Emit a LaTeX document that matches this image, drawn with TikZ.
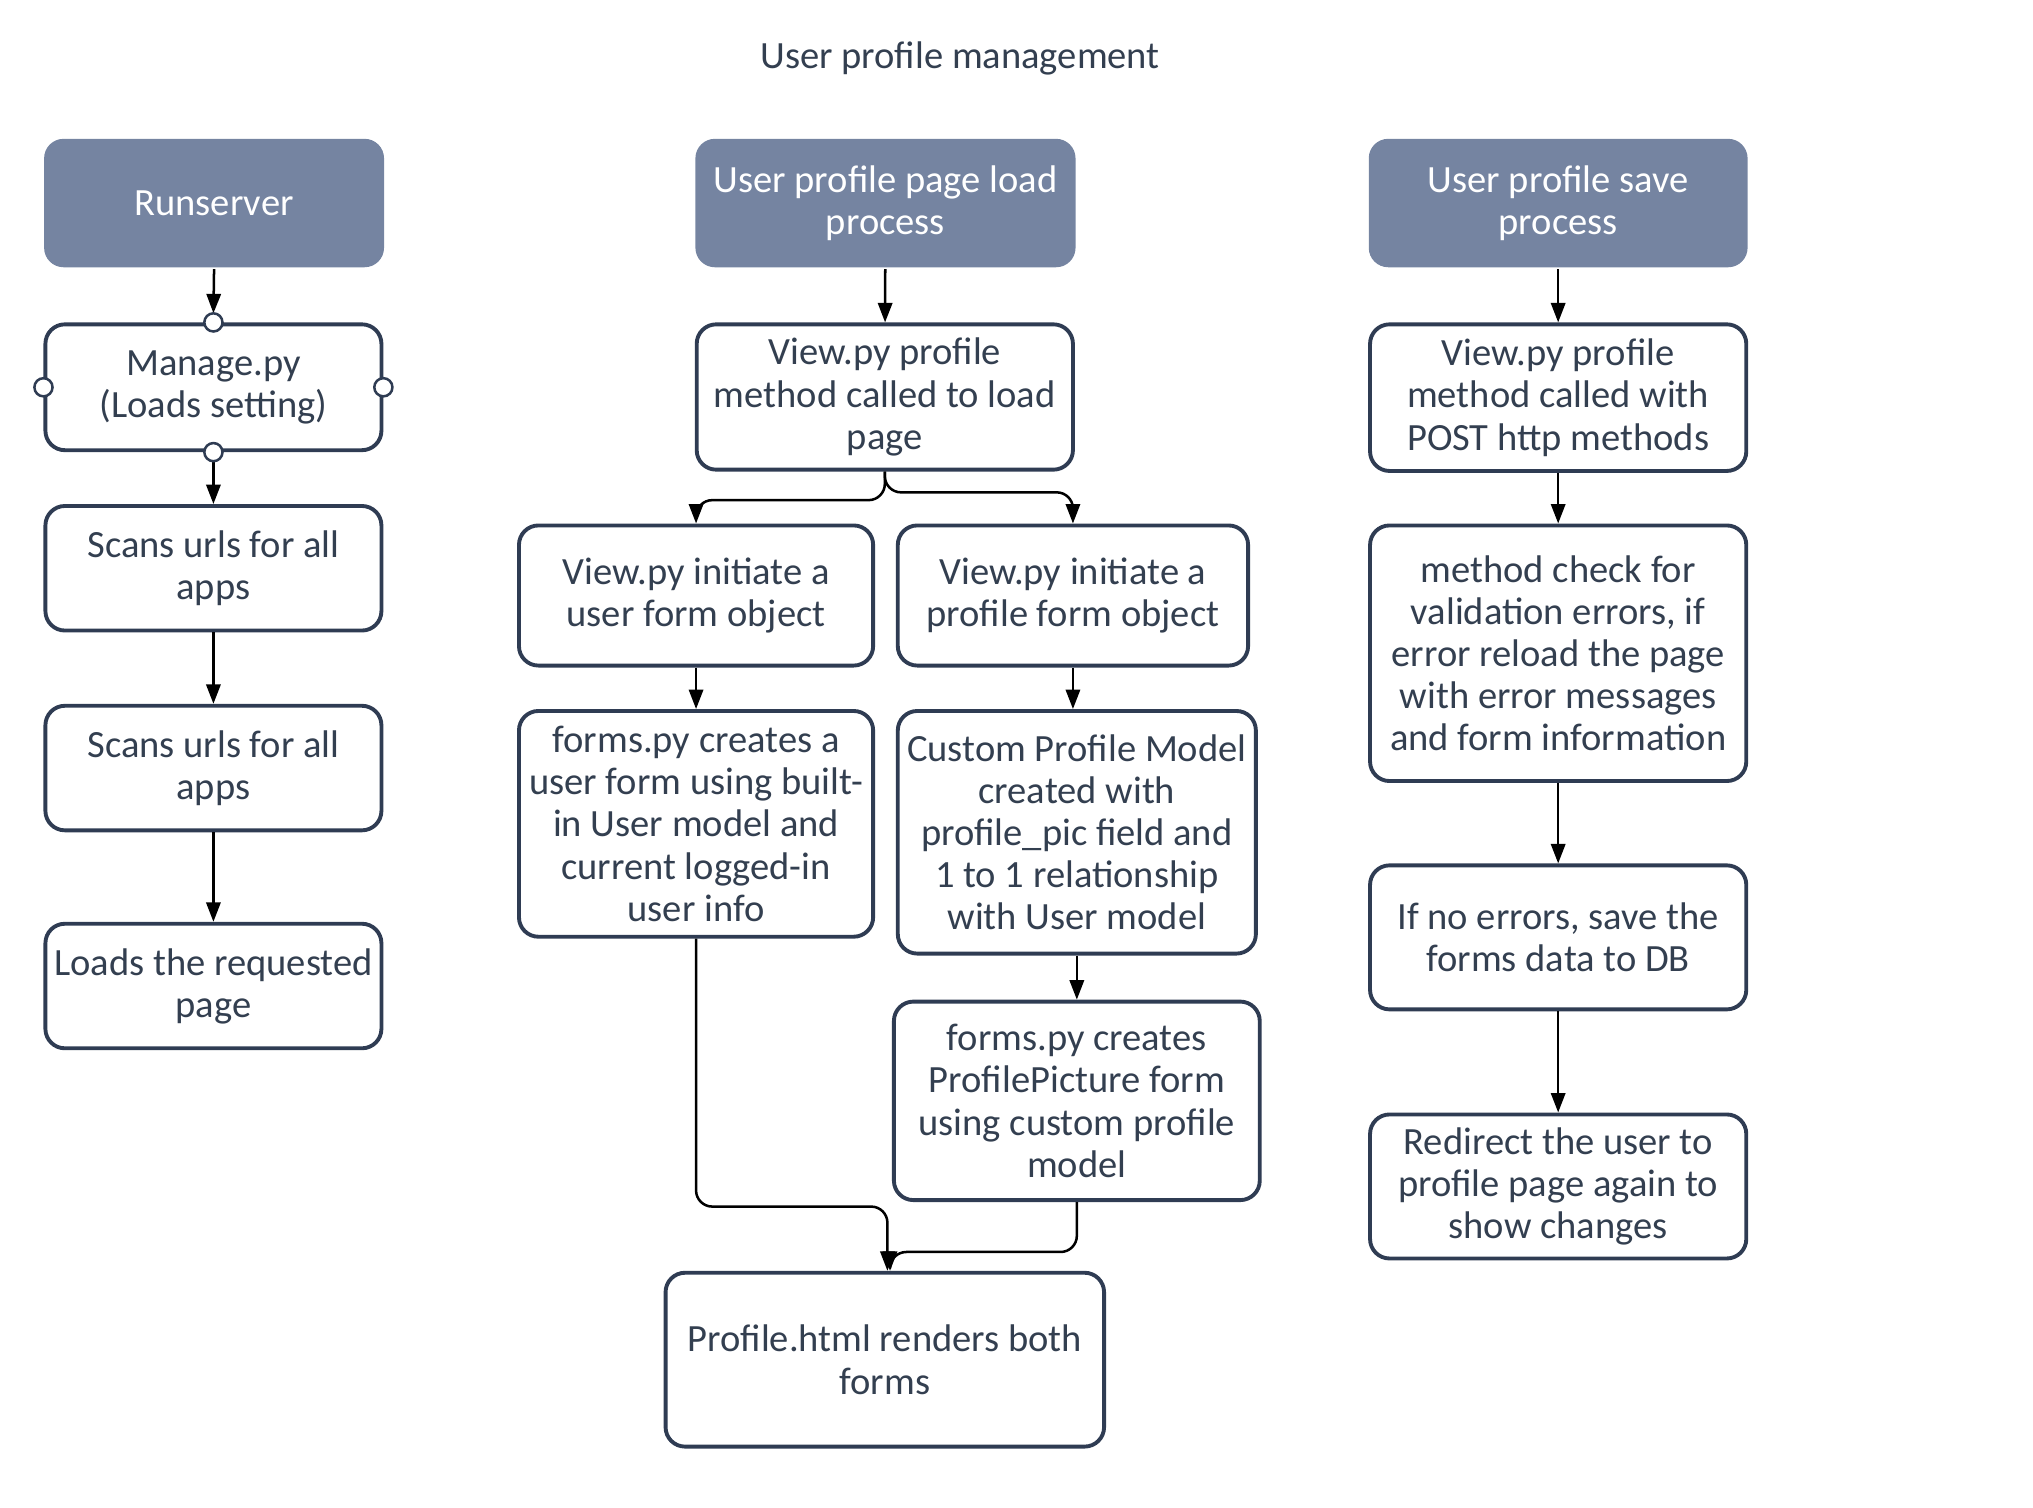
\documentclass[tikz,border=0pt]{standalone}
\usepackage{fontspec}
\setmainfont{Carlito}
\usepackage{xcolor}
\usepackage{tikz}
\usetikzlibrary{arrows.meta}

\definecolor{headfill}{HTML}{7584A1}
\definecolor{boxline}{HTML}{2F3C53}
\definecolor{boxtext}{HTML}{333F50}

\begin{document}
\begin{tikzpicture}[x=0.2mm, y=-0.2mm,
    box/.style={draw=boxline, line width=1.7pt, rounded corners=3mm, fill=white,
        text=boxtext, align=center, inner sep=1pt, font=\fontsize{16.9}{18.5}\selectfont},
    head/.style={box, draw=none, fill=headfill, text=white},
    size/.style 2 args={minimum width=#1mm, minimum height=#2mm},
    flow/.style={draw=black, line width=1.1pt, rounded corners=2.5mm,
        -{Triangle[length=3mm, width=2.2mm]}},
    port/.style={draw=boxline, line width=1.1pt, fill=white}]

    \useasboundingbox (0,0) rectangle (1567,1162.3);

    % Title
    \node[text=boxtext, font=\fontsize{16.9}{18.5}\selectfont] (title) at (740,45) {User profile management};

    % Runserver column
    \node[head, size={52.4}{19.8}] (run) at (165,156.5) {Runserver};
    \node[box, size={51.8}{19.4}] (manage) at (164.5,298.5) {Manage.py\\(Loads setting)};
    \node[box, size={51.8}{19.2}] (scanA) at (164.5,438) {Scans urls for all\\apps};
    \node[box, size={51.8}{19.2}] (scanB) at (164.5,592) {Scans urls for all\\apps};
    \node[box, size={51.8}{19.2}] (loads) at (164.5,760) {Loads the requested\\page};

    % Page load column
    \node[head, size={58.6}{19.8}] (hload) at (682.5,156.5) {User profile page load\\process};
    \node[box, size={58}{22.4}] (vload) at (682,306) {View.py profile\\method called to load\\page};
    \node[box, size={54.6}{21.6}] (vuser) at (536.5,459) {View.py initiate a\\user form object};
    \node[box, size={54}{21.6}] (vprof) at (827,459) {View.py initiate a\\profile form object};
    \node[box, size={54.6}{34.8}] (fuser) at (536.5,635) {forms.py creates a\\user form using built-\\in User model and\\current logged-in\\user info};
    \node[box, size={55.2}{37.4}] (custom) at (830,641.5) {Custom Profile Model\\created with\\profile\_pic field and\\1 to 1 relationship\\with User model};
    \node[box, size={56.4}{30.6}] (fpic) at (830,848.5) {forms.py creates\\ProfilePicture form\\using custom profile\\model};
    \node[box, size={67.6}{26.8}] (phtml) at (682,1048) {Profile.html renders both\\forms};

    % Save column
    \node[head, size={58.4}{19.8}] (hsave) at (1201,156.5) {User profile save\\process};
    \node[box, size={58}{22.6}] (vpost) at (1201,306.5) {View.py profile\\method called with\\POST http methods};
    \node[box, size={58}{39.4}] (check) at (1201,503.5) {method check for\\validation errors, if\\error reload the page\\with error messages\\and form information};
    \node[box, size={58}{22.2}] (noerr) at (1201,722.5) {If no errors, save the\\forms data to DB};
    \node[box, size={58}{22.2}] (redir) at (1201,914.5) {Redirect the user to\\profile page again to\\show changes};

    % Arrows
    \draw[flow] (run.south) -- ([yshift=1.4mm]manage.north);
    \draw[flow] ([yshift=-1.4mm]manage.south) -- (scanA.north);
    \draw[flow] (scanA) -- (scanB);
    \draw[flow] (scanB) -- (loads);

    \draw[flow] (hload) -- (vload);
    \draw[flow] (vload.south) -- ++(0,22) -| (vuser.north);
    \draw[flow] (vload.south) -- ++(0,16) -| (vprof.north);
    \draw[flow] (vuser) -- (fuser);
    \draw[flow] (vprof) -- (vprof |- custom.north);
    \draw[flow] (custom) -- (fpic);
    \draw[flow] (fuser.south) -- (fuser.south |- 0,930) -| ([xshift=0.4mm]phtml.north);
    \draw[flow] (fpic.south) -- (fpic.south |- 0,965) -| ([xshift=0.8mm]phtml.north);

    \draw[flow] (hsave) -- (vpost);
    \draw[flow] (vpost) -- (check);
    \draw[flow] (check) -- (noerr);
    \draw[flow] (noerr) -- (redir);

    % Ports on Manage.py
    \foreach \side in {north, south, east, west}
        \draw[port] (manage.\side) circle[radius=1.4mm];
\end{tikzpicture}
\end{document}
